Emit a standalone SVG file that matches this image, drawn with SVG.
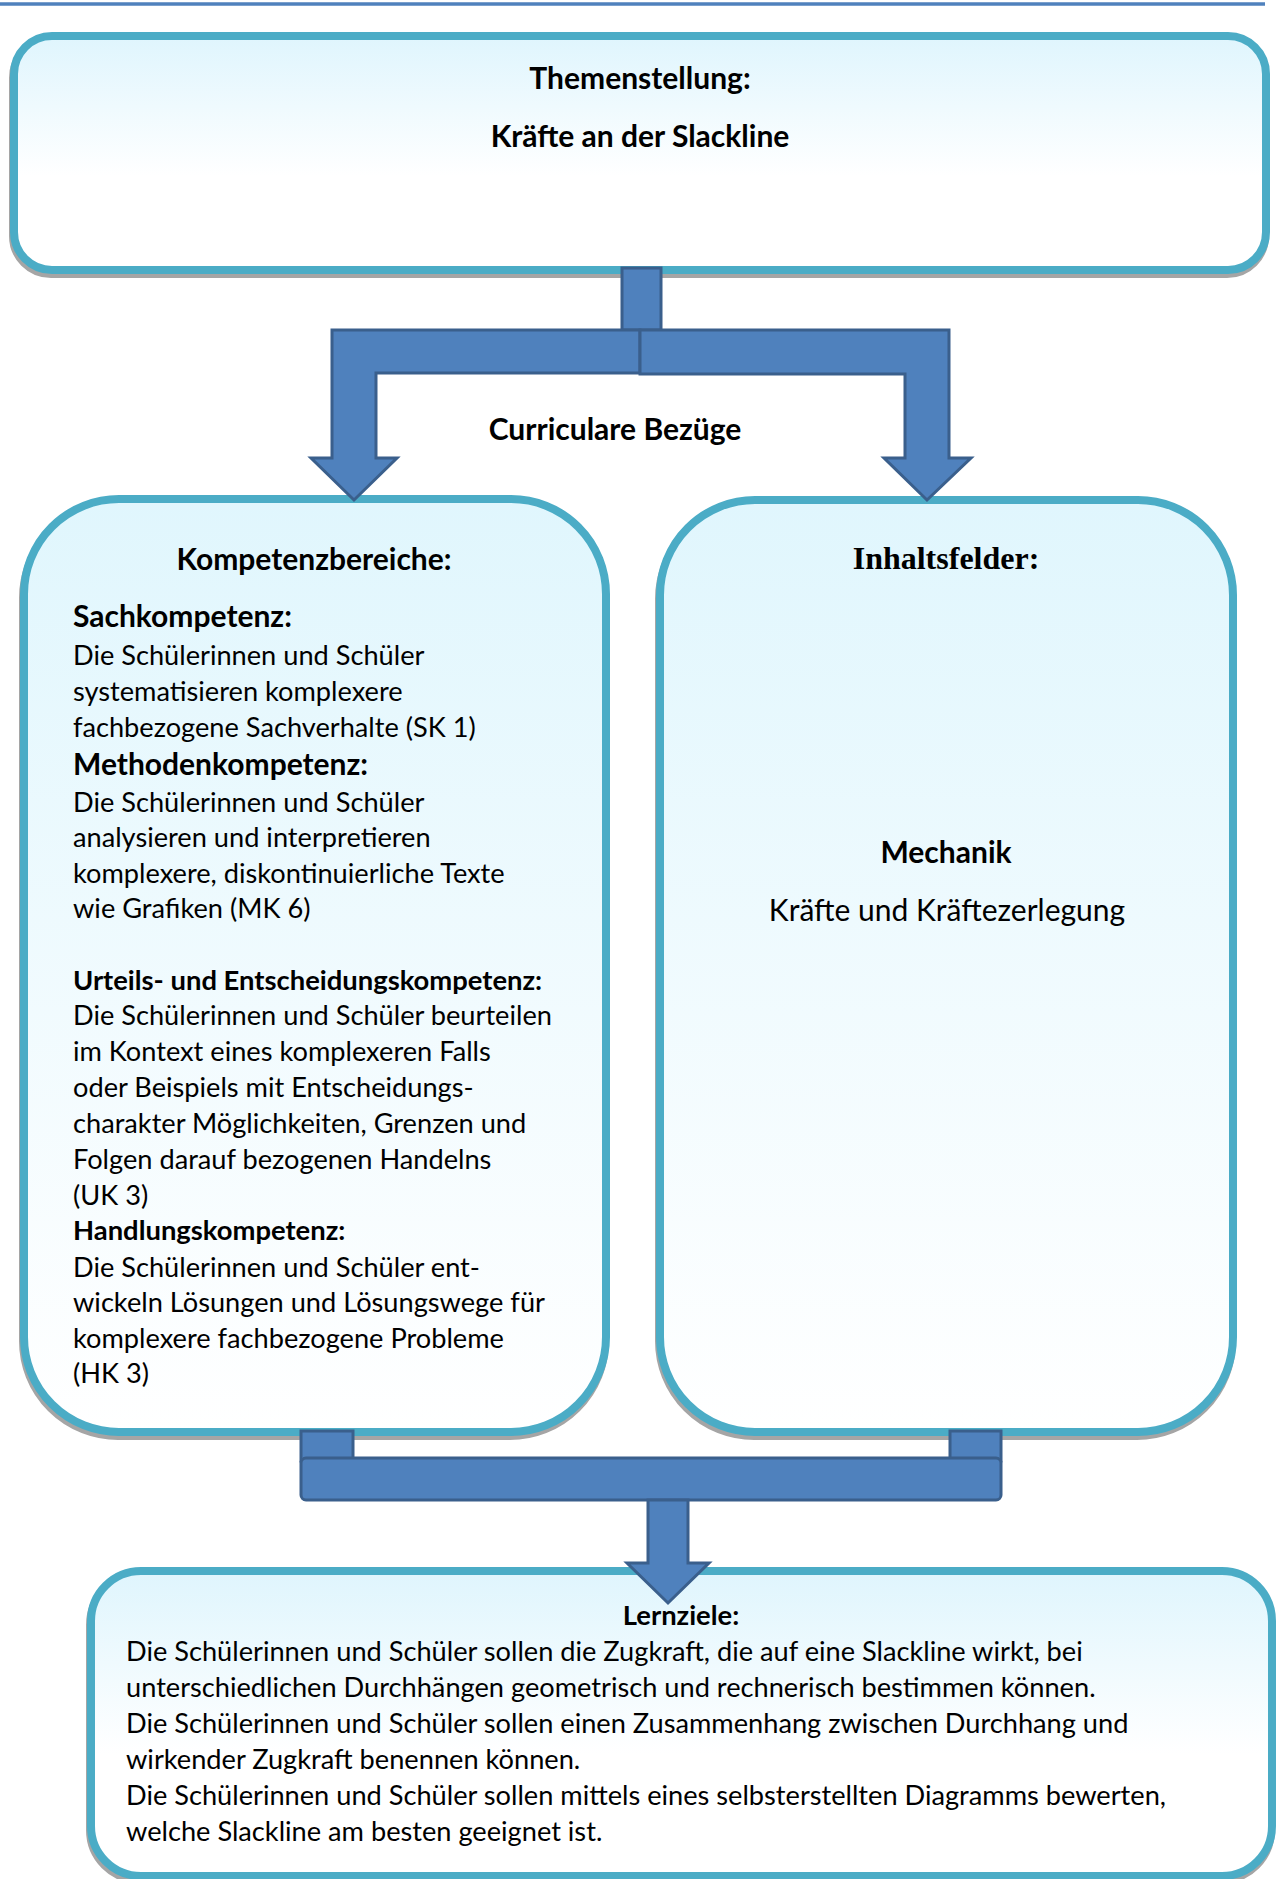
<svg xmlns="http://www.w3.org/2000/svg" width="1280" height="1879" viewBox="0 0 1280 1879">
<defs>
<linearGradient id="g1" x1="0" y1="0" x2="0" y2="1">
<stop offset="0" stop-color="#DFF5FD"/>
<stop offset="0.6" stop-color="#FFFFFF"/>
<stop offset="1" stop-color="#FFFFFF"/>
</linearGradient>
<linearGradient id="g2" x1="0" y1="0" x2="0" y2="1">
<stop offset="0" stop-color="#E0F6FD"/>
<stop offset="1" stop-color="#FFFFFF"/>
</linearGradient>
<style>
.box{stroke:#4BACC6;stroke-width:8}
.shadow{fill:none;stroke:#A5A5A5;stroke-width:8}
.arr{fill:#4F81BD;stroke:#3A5F8C;stroke-width:3;stroke-linejoin:miter}
.t{font-family:Lato,"Liberation Sans",sans-serif;fill:#000}
.body{font-size:27.2px}
.h32{font-size:30px;font-weight:bold}
.h29{font-size:27.4px;font-weight:bold}
.r32{font-size:30px}
.serif{font-family:"Liberation Serif","Times New Roman",serif;font-weight:bold;font-size:32px}
</style>
</defs>
<rect width="1280" height="1879" fill="#FFFFFF"/>
<line x1="0" y1="4" x2="1265" y2="4" stroke="#4F81BD" stroke-width="3.5"/>

<g id="themenstellung">
<rect class="shadow" x="13" y="40" width="1252" height="234" rx="38"/>
<rect class="box" x="14" y="36" width="1252" height="234" rx="38" fill="url(#g1)" stroke-width="7"/>
<text class="t h32" x="640" y="89" text-anchor="middle">Themenstellung:</text>
<text class="t h32" x="640" y="147" text-anchor="middle">Kräfte an der Slackline</text>
</g>

<g id="kompetenzbereiche">
<rect class="shadow" x="23" y="503" width="582" height="933" rx="95"/>
<rect class="box" x="24" y="499" width="582" height="933" rx="95" fill="url(#g2)"/>
<text class="t h32" x="314" y="570" text-anchor="middle">Kompetenzbereiche:</text>
<text class="t h32" x="73" y="627">Sachkompetenz:</text>
<text class="t body" x="73" y="665">Die Schülerinnen und Schüler</text>
<text class="t body" x="73" y="701">systematisieren komplexere</text>
<text class="t body" x="73" y="737">fachbezogene Sachverhalte (SK 1)</text>
<text class="t h32" x="73" y="775">Methodenkompetenz:</text>
<text class="t body" x="73" y="812">Die Schülerinnen und Schüler</text>
<text class="t body" x="73" y="847">analysieren und interpretieren</text>
<text class="t body" x="73" y="883">komplexere, diskontinuierliche Texte</text>
<text class="t body" x="73" y="918">wie Grafiken (MK 6)</text>
<text class="t h29" x="73" y="990">Urteils- und Entscheidungskompetenz:</text>
<text class="t body" x="73" y="1025">Die Schülerinnen und Schüler beurteilen</text>
<text class="t body" x="73" y="1061">im Kontext eines komplexeren Falls</text>
<text class="t body" x="73" y="1097">oder Beispiels mit Entscheidungs-</text>
<text class="t body" x="73" y="1133">charakter Möglichkeiten, Grenzen und</text>
<text class="t body" x="73" y="1169">Folgen darauf bezogenen Handelns</text>
<text class="t body" x="73" y="1205">(UK 3)</text>
<text class="t h29" x="73" y="1240">Handlungskompetenz:</text>
<text class="t body" x="73" y="1277">Die Schülerinnen und Schüler ent-</text>
<text class="t body" x="73" y="1312">wickeln Lösungen und Lösungswege für</text>
<text class="t body" x="73" y="1348">komplexere fachbezogene Probleme</text>
<text class="t body" x="73" y="1383">(HK 3)</text>
</g>

<g id="inhaltsfelder">
<rect class="shadow" x="659" y="504" width="573" height="932" rx="95"/>
<rect class="box" x="660" y="500" width="573" height="932" rx="95" fill="url(#g2)"/>
<text class="serif" x="946" y="569" text-anchor="middle">Inhaltsfelder:</text>
<text class="t h32" x="946" y="863" text-anchor="middle">Mechanik</text>
<text class="t r32" x="947" y="921" text-anchor="middle">Kräfte und Kräftezerlegung</text>
</g>

<g id="lernziele">
<rect class="shadow" x="90" y="1575" width="1181" height="305" rx="50"/>
<rect class="box" x="91" y="1571" width="1181" height="305" rx="50" fill="url(#g1)"/>
<text class="t h29" x="681" y="1625" text-anchor="middle">Lernziele:</text>
<text class="t body" x="126" y="1661">Die Schülerinnen und Schüler sollen die Zugkraft, die auf eine Slackline wirkt, bei</text>
<text class="t body" x="126" y="1697">unterschiedlichen Durchhängen geometrisch und rechnerisch bestimmen können.</text>
<text class="t body" x="126" y="1733">Die Schülerinnen und Schüler sollen einen Zusammenhang zwischen Durchhang und</text>
<text class="t body" x="126" y="1769">wirkender Zugkraft benennen können.</text>
<text class="t body" x="126" y="1805">Die Schülerinnen und Schüler sollen mittels eines selbsterstellten Diagramms bewerten,</text>
<text class="t body" x="126" y="1841">welche Slackline am besten geeignet ist.</text>
</g>

<g id="connectors">
<rect class="arr" x="622" y="268" width="39" height="62"/>
<polygon class="arr" points="640,330 332,330 332,458 311,458 354,500 397,458 376,458 376,373 640,373"/>
<polygon class="arr" points="640,330 949,330 949,458 971,458 927,500 884,458 905,458 905,374 640,374"/>
<text class="t h32" x="615" y="440" text-anchor="middle">Curriculare Bezüge</text>
<rect class="arr" x="301" y="1431" width="52" height="30"/>
<rect class="arr" x="950" y="1431" width="51" height="30"/>
<rect class="arr" x="301" y="1458" width="700" height="42" rx="5"/>
<polygon class="arr" points="648,1500 688,1500 688,1563 709,1563 668,1603 627,1563 648,1563"/>
</g>
</svg>
